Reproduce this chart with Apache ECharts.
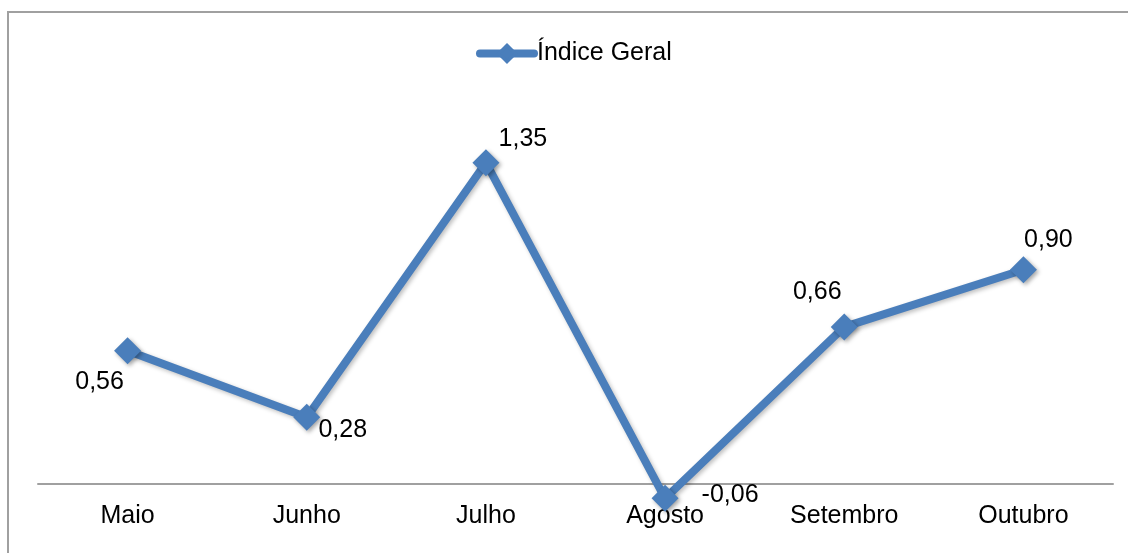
<!DOCTYPE html>
<html>
<head>
<meta charset="utf-8">
<script src="https://cdn.jsdelivr.net/npm/echarts@6/dist/echarts.min.js"></script>
<style>
html,body{margin:0;padding:0;background:#fff;}
#chart{width:1128px;height:553px;}
</style>
</head>
<body>
<div id="chart"></div>
<script>
var categories = ['Maio', 'Junho', 'Julho', 'Agosto', 'Setembro', 'Outubro'];
var seriesName = 'Índice Geral';
var values = [0.56, 0.28, 1.35, -0.06, 0.66, 0.90];
var labelOffsets = [[-28, 31], [36, 13], [37, -24], [65, -3], [-27, -35], [25, -30]];

var FONT = '"Liberation Sans", Arial, sans-serif';
var BLUE = '#4A7EBB';

var chart = echarts.init(document.getElementById('chart'));
chart.setOption({
  animation: false,
  backgroundColor: '#fff',
  graphic: [{
    type: 'rect',
    shape: { x: 8, y: 12, width: 1300, height: 700 },
    style: { fill: 'none', stroke: '#a0a0a0', lineWidth: 2 },
    silent: true,
    z: -1
  }],
  legend: {
    data: [seriesName],
    top: 41,
    left: 476,
    padding: 0,
    itemWidth: 54,
    itemHeight: 21,
    itemGap: 2,
    lineStyle: { width: 8, color: BLUE, cap: 'round' },
    itemStyle: { color: BLUE, borderColor: BLUE, borderWidth: 3 },
    textStyle: { fontFamily: FONT, fontSize: 25, color: '#000', padding: [0, 0, 0, -2] }
  },
  grid: { left: 38, right: 15, top: 103.2, bottom: 57.1, outerBoundsMode: 'none', containLabel: false },
  xAxis: {
    type: 'category',
    data: categories,
    boundaryGap: true,
    axisTick: { show: false },
    axisLine: { onZero: true, lineStyle: { color: '#a0a0a0', width: 2 } },
    axisLabel: { margin: 8, fontFamily: FONT, fontSize: 25, color: '#000' },
    splitLine: { show: false }
  },
  yAxis: {
    type: 'value',
    min: -0.05,
    max: 1.6,
    show: false,
    splitLine: { show: false }
  },
  series: [{
    name: seriesName,
    type: 'line',
    clip: false,
    data: values.map(function (v, i) {
      return {
        value: v,
        label: { offset: labelOffsets[i] }
      };
    }),
    symbol: 'diamond',
    symbolSize: 27,
    showAllSymbol: true,
    lineStyle: {
      color: BLUE, width: 8,
      shadowColor: 'rgba(0,0,0,0.25)', shadowBlur: 4, shadowOffsetX: 2, shadowOffsetY: 2
    },
    itemStyle: {
      color: BLUE, borderWidth: 0,
      shadowColor: 'rgba(0,0,0,0.35)', shadowBlur: 4, shadowOffsetX: 2, shadowOffsetY: 2
    },
    label: {
      show: true,
      position: 'inside',
      fontFamily: FONT,
      fontSize: 25,
      color: '#000',
      formatter: function (p) { return p.value.toFixed(2).replace('.', ','); }
    },
    emphasis: { disabled: true },
    z: 3
  }]
});
</script>
</body>
</html>
